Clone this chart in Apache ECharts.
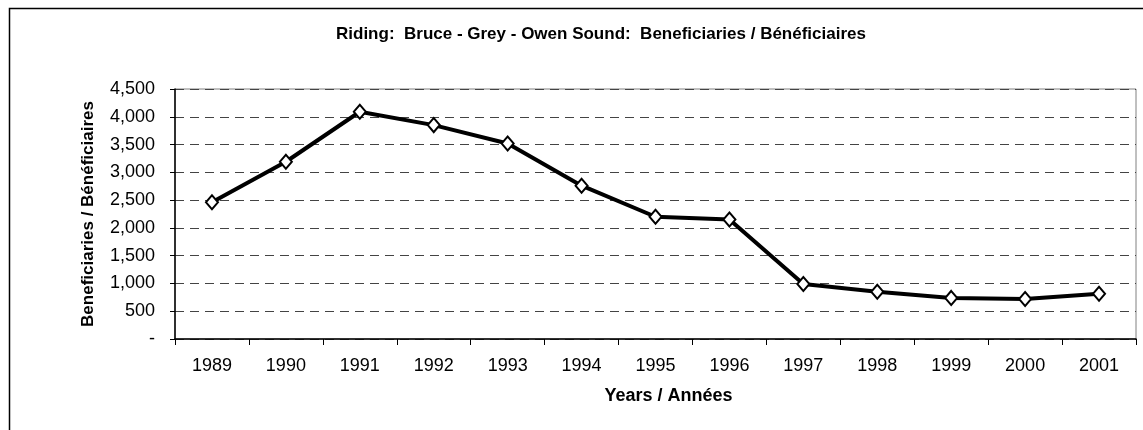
<!DOCTYPE html>
<html>
<head>
<meta charset="utf-8">
<script src="https://cdn.jsdelivr.net/npm/echarts@6/dist/echarts.min.js"></script>
<style>
  html, body { margin: 0; padding: 0; background: #fff; }
  #chart { width: 1143px; height: 430px; }
</style>
</head>
<body>
<div id="chart"></div>
<script>
// years on the x axis
var years = ['1989', '1990', '1991', '1992', '1993', '1994', '1995',
             '1996', '1997', '1998', '1999', '2000', '2001'];
// beneficiaries per year
var beneficiaries = [2460, 3190, 4090, 3850, 3520, 2760, 2200,
                     2150, 990, 850, 740, 720, 815];

var titleText = 'Riding:  Bruce - Grey - Owen Sound:  Beneficiaries / Bénéficiaires';
var yName = 'Beneficiaries / Bénéficiaires';
var xName = 'Years / Années';

var myChart = echarts.init(document.getElementById('chart'));
myChart.setOption({
  backgroundColor: '#fff',
  animation: false,
  textStyle: { fontFamily: 'Liberation Sans, Arial, sans-serif' },
  title: {
    text: titleText,
    left: 331,
    top: 21,
    textStyle: { fontSize: 17, fontWeight: 'bold', color: '#000' }
  },
  graphic: [{
    type: 'rect',
    left: 7, top: 6,
    shape: { width: 1160, height: 450 },
    style: { fill: 'none', stroke: '#000', lineWidth: 1.5 },
    silent: true
  }],
  grid: {
    left: 175, right: 7, top: 89, bottom: 91,
    show: true, borderColor: '#808080', borderWidth: 1,
    containLabel: false
  },
  xAxis: {
    type: 'category',
    data: years,
    boundaryGap: true,
    name: xName,
    nameLocation: 'middle',
    nameGap: 48,
    nameTextStyle: { fontSize: 18, fontWeight: 'bold', color: '#000', padding: [0, 0, 0, 26] },
    axisLine: { lineStyle: { color: '#000', width: 1.5 } },
    axisTick: { show: true, interval: 0, length: 6, lineStyle: { color: '#000' } },
    axisLabel: { fontSize: 18, color: '#000', margin: 18 }
  },
  yAxis: {
    type: 'value',
    min: 0, max: 4500, interval: 500,
    name: yName,
    nameLocation: 'middle',
    nameRotate: 90,
    nameGap: 78,
    nameTextStyle: { fontSize: 17, fontWeight: 'bold', color: '#000' },
    axisLine: { show: true, lineStyle: { color: '#000', width: 1.5 } },
    axisTick: { show: true, length: 5, lineStyle: { color: '#000' } },
    axisLabel: {
      fontSize: 18, color: '#000', margin: 20,
      formatter: function (v) { return v === 0 ? '-' : v.toLocaleString('en-US'); }
    },
    splitLine: { show: true, lineStyle: { color: '#444', type: [9, 6], width: 1 } }
  },
  series: [{
    type: 'line',
    data: beneficiaries,
    symbol: 'diamond',
    symbolSize: [12, 14],
    lineStyle: { color: '#000', width: 4 },
    itemStyle: { color: '#fff', borderColor: '#000', borderWidth: 2 },
    z: 5
  }]
});
</script>
</body>
</html>
